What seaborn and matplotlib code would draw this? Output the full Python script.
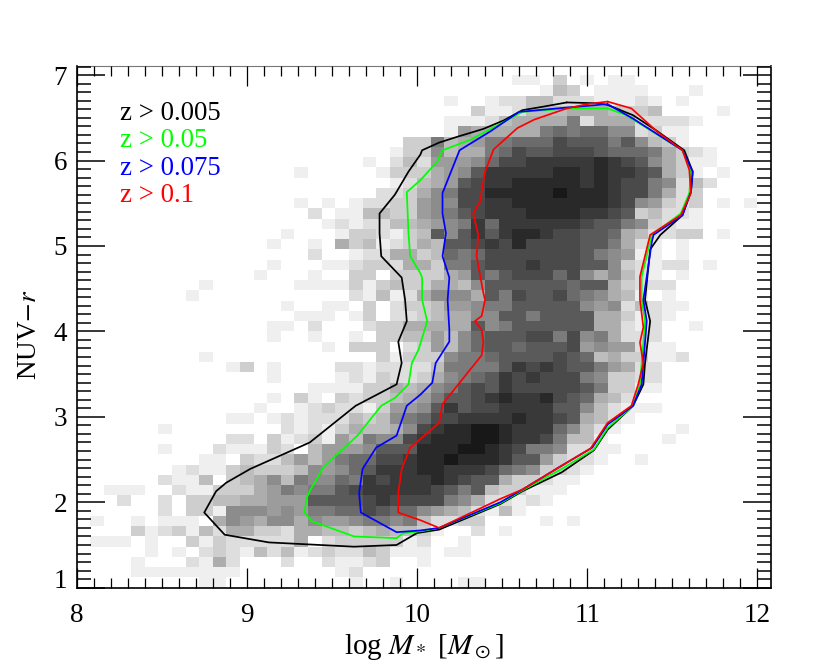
import numpy as np
import pandas as pd
import matplotlib
matplotlib.use('Agg')
import matplotlib.pyplot as plt
from matplotlib.ticker import MultipleLocator
import seaborn as sns

# gray level per bin (hex, 0-f), top row is y = 6.88-7.00, columns run from x = 8
# each row has 10 groups of 5 columns
rows = [
    "..... ..... ..... ..... ..... ..... ..11. 3.1.1 1.... .....",
    "..... ..... ..... ..... ..... ..... ....1 43.11 11... 1....",
    "..... ..... ..... ..... ..... ..1.. 12244 22211 121.1 .....",
    "..... ..... ..... ..... ..... ....3 11244 45554 334.. ..1..",
    "..... ..... ..... ..... ..... ..111 24555 58255 52222 1....",
    "..... ..... ..... ..... ..... ..165 55558 98997 72311 .....",
    "..... ..... ..... ..... ....3 38456 88999 baaa8 a7431 .....",
    "..... ..... ..... ..... ...13 37455 89baa bbba9 99853 21...",
    "..... ..... ..... ..... .1.24 26667 9bbcc cccdc ba753 11...",
    "..... ..... ..... .1... ..133 3567a ccccc ddcdc cba53 1.1..",
    "..... ..... ..... ..... ...12 456ab ccddd ddcdc bb872 42...",
    "..... ..... ..... ..... ..223 578bb ddddd edddc bb852 3....",
    "..... ..... ..... .1.1. 12233 677bb ccddd ddddc b7632 3.1.1",
    "..... ..... ..... ..2.1 14433 678ab cccdd ddccb a3422 1....",
    "..... ..... ..... ...12 12244 5678c 9cccc ccbaa 87321 1....",
    "..... ..... ..... 1...1 33213 4a7ac acddc bbaa9 54223 3.1..",
    "..... ..... ....1 ..1.5 34123 54aab cbdbb bbaa8 521.1 .....",
    "..... ..... ..... ..2.. 12255 34989 bbbbb bba87 611.1 .....",
    "..... ..... ....1 ...11 23325 5388a bbbcb bbaa7 32122 .1...",
    "..... ..... ...1. ..1.. 33.33 3356a 8abbb 9b757 421.1 .....",
    "..... ....1 ..... .1111 31343 35547 aaaaa a9aa5 3222. .....",
    "..... ...1. ..... ..... 21412 57775 a8baa b9875 41.1. .....",
    "..... ..... ..... 1..11 .3.23 34667 88aaa aa767 24211 .....",
    "..... ..... ..... .111. 13.22 34557 7aa8a aaa55 3121. .....",
    "..... ..... ....1 1.2.. .2335 5555a 78aaa aaa55 212.. 1....",
    "..... ..... ....1 ..1.. 1.334 46479 aaabb 8b785 222.. .....",
    "..... ..... ..... ...1. 333.2 36479 aa9aa ab676 6211. .....",
    "..... ....1 ..... ..... ..313 33788 9aaaa ba945 33112 .....",
    "..... ..... .13.1 ....2 21222 24888 8acbc baa86 522.. .....",
    "..... ..... ....1 ....1 21322 35789 acbcb bb873 322.. .....",
    "..... ..... ..... ..111 13354 578ab acbbb bba83 311.. .....",
    "..... ..... ....1 .31.3 23345 68aab cdccd ba954 2.... .....",
    "..... ..... ...1. .1232 21366 7acab bcccc aa742 111.. .....",
    "..... ..... .11.1 21222 43478 9bbcc ccdcc ba542 1.... .....",
    "..... .1... ..... 21213 54457 bcdde edccc 97421 ....1 .....",
    "..... ..... .22.3 12316 4877b cddde edccb 8441. ...1. .....",
    "..... .1... 21113 2.466 67aaa dddee dcb88 72211 ..... .....",
    "..... ....1 1.322 46468 99bbc ddedd dcaa6 3221. .1... .....",
    "..... ..121 13433 34767 9accc ddccc b9873 321.. ..... .....",
    "..... .2114 .3457 48779 8cbcc cdcba a5332 11... ..... .....",
    "..111 ..211 33356 8788a bcccc cba8a 43311 1.... ..... .....",
    "...2. .2.33 44556 66aaa abcbb bb875 22121 ..... ..... .....",
    "..... .2.33 17776 76889 9ba99 76542 141.. ..... ..... .....",
    ".1..1 .111. 57657 75766 78878 42233 ....1 .1... ..... .....",
    "....3 12314 25533 25544 34544 31..2 .1... ..... ..... .....",
    ".111. 1..31 32222 25.23 33331 2..1. ..... ..... ..... .....",
    "..... 1.1.2 32142 41232 24311 1.11. ..... ..... ..... .....",
    "....1 ...21 52... 2..21 123.. 1.... ..... ..... ..... .....",
    "....1 11111 11... ....1 2.... ..... ..... ..... ..... .....",
    "..... ....1 1.... ..... 1..1. ...11 ..... ..... ..... .....",
]

black_x = [10.88, 10.74, 10.62, 10.51, 10.39, 10.24, 10.13, 10.03, 10.02, 9.95, 9.87, 9.78, 9.78, 9.79, 9.91, 9.93, 9.94, 9.89, 9.91, 9.88, 9.64, 9.37, 9.02, 8.88, 8.82, 8.75, 8.87, 9.13, 9.63, 9.88, 10.0, 10.13, 10.49, 10.62, 10.85, 11.04, 11.12, 11.27, 11.33, 11.34, 11.37, 11.34, 11.37, 11.43, 11.56, 11.61, 11.62, 11.57, 11.40, 11.27, 11.12, 11.06, 10.88]
black_y = [6.68, 6.63, 6.59, 6.47, 6.37, 6.28, 6.21, 6.12, 6.07, 5.87, 5.60, 5.38, 5.15, 4.88, 4.63, 4.37, 4.12, 3.88, 3.63, 3.38, 3.13, 2.70, 2.39, 2.23, 2.13, 1.88, 1.62, 1.53, 1.48, 1.50, 1.64, 1.68, 1.98, 2.13, 2.35, 2.61, 2.85, 3.13, 3.38, 3.63, 4.12, 4.37, 4.96, 5.13, 5.36, 5.64, 5.87, 6.12, 6.36, 6.53, 6.65, 6.67, 6.68]

green_x = [11.12, 10.89, 10.62, 10.48, 10.31, 10.15, 10.12, 10.02, 9.94, 9.95, 9.96, 10.02, 10.03, 10.03, 10.06, 10.01, 9.97, 9.95, 9.87, 9.79, 9.65, 9.45, 9.37, 9.35, 9.34, 9.38, 9.63, 9.88, 9.92, 10.02, 10.13, 10.49, 10.62, 10.85, 11.04, 11.12, 11.27, 11.31, 11.32, 11.34, 11.32, 11.32, 11.38, 11.55, 11.60, 11.61, 11.56, 11.23, 11.12]
green_y = [6.61, 6.61, 6.57, 6.42, 6.24, 6.12, 5.99, 5.77, 5.63, 5.15, 4.88, 4.68, 4.63, 4.37, 4.12, 3.79, 3.63, 3.38, 3.22, 3.13, 2.78, 2.41, 2.13, 2.04, 1.88, 1.78, 1.60, 1.58, 1.64, 1.66, 1.70, 1.99, 2.14, 2.39, 2.62, 2.87, 3.13, 3.38, 3.63, 4.12, 4.37, 4.64, 5.13, 5.38, 5.62, 5.87, 6.12, 6.53, 6.61]

blue_x = [11.12, 10.88, 10.60, 10.43, 10.25, 10.15, 10.15, 10.17, 10.15, 10.19, 10.18, 10.19, 10.19, 10.11, 10.09, 10.02, 9.94, 9.88, 9.76, 9.68, 9.66, 9.67, 9.88, 10.02, 10.13, 10.49, 10.62, 10.86, 11.03, 11.12, 11.27, 11.32, 11.33, 11.35, 11.33, 11.35, 11.38, 11.39, 11.56, 11.61, 11.62, 11.56, 11.27, 11.12]
blue_y = [6.66, 6.62, 6.57, 6.34, 6.12, 5.62, 5.38, 5.15, 4.88, 4.63, 4.37, 4.02, 3.88, 3.63, 3.40, 3.26, 3.13, 2.78, 2.64, 2.39, 2.11, 1.88, 1.65, 1.67, 1.70, 2.00, 2.15, 2.44, 2.64, 2.91, 3.13, 3.38, 3.63, 4.12, 4.37, 4.64, 5.05, 5.13, 5.36, 5.64, 5.87, 6.12, 6.49, 6.66]

red_x = [11.12, 11.00, 10.88, 10.69, 10.59, 10.45, 10.40, 10.37, 10.33, 10.36, 10.35, 10.39, 10.40, 10.38, 10.34, 10.38, 10.39, 10.38, 10.15, 10.13, 10.02, 9.96, 9.91, 9.89, 9.89, 10.02, 10.13, 10.49, 10.62, 10.86, 11.02, 11.12, 11.26, 11.30, 11.33, 11.31, 11.33, 11.31, 11.31, 11.37, 11.55, 11.61, 11.60, 11.56, 11.41, 11.26, 11.12]
red_y = [6.69, 6.66, 6.61, 6.48, 6.38, 6.13, 5.87, 5.52, 5.38, 5.13, 4.88, 4.45, 4.37, 4.18, 4.12, 4.02, 3.87, 3.72, 3.15, 2.93, 2.74, 2.64, 2.39, 2.11, 1.88, 1.79, 1.70, 2.04, 2.15, 2.44, 2.63, 2.93, 3.13, 3.38, 3.63, 3.87, 4.05, 4.37, 4.64, 5.13, 5.36, 5.62, 5.89, 6.12, 6.34, 6.61, 6.69]

labels = ['z > 0.005', 'z > 0.05', 'z > 0.075', 'z > 0.1']
colors = ['black', '#00ff00', '#0000ff', '#ff0000']

x_edges = np.linspace(8, 12, 51)
y_edges = np.linspace(1, 7, 51)
x_mid = (x_edges[:-1] + x_edges[1:]) / 2
y_mid = (y_edges[:-1] + y_edges[1:]) / 2

# long form table for histplot
cells = []
for j, row in enumerate(rows):
    for i, c in enumerate(row.replace(' ', '')):
        if c != '.':
            cells.append((x_mid[i], y_mid[49 - j], int(c, 16)))
grid = pd.DataFrame(cells, columns=['mass', 'color', 'level'])

sns.set_style('ticks')
plt.rcParams['font.family'] = ['Liberation Serif', 'DejaVu Serif']
plt.rcParams['mathtext.fontset'] = 'stix'
for key in ['text.color', 'axes.labelcolor', 'xtick.color', 'ytick.color', 'axes.edgecolor']:
    plt.rcParams[key] = 'black'

fig = plt.figure(figsize=(8.3, 6.67), dpi=100)
ax = fig.add_axes([76.6 / 830, 1 - 587.7 / 667, (771 - 76.6) / 830, (587.7 - 65.7) / 667])

# vmax 15.5 keeps the darkest bins around 0x1b
sns.histplot(data=grid, x='mass', y='color', weights='level', bins=[x_edges, y_edges],
             cmap='gray_r', vmin=0, vmax=15.5, ax=ax)

for cx, cy, col in [(black_x, black_y, colors[0]), (green_x, green_y, colors[1]),
                    (blue_x, blue_y, colors[2]), (red_x, red_y, colors[3])]:
    sns.lineplot(x=cx, y=cy, sort=False, estimator=None, color=col, lw=1.25, ax=ax)

ax.set_xlim(8, 12.08)
ax.set_ylim(1, 7.11)
ax.set_axisbelow(False)
ax.xaxis.set_major_locator(MultipleLocator(1))
ax.xaxis.set_minor_locator(MultipleLocator(0.1))
ax.yaxis.set_major_locator(MultipleLocator(1))
ax.yaxis.set_minor_locator(MultipleLocator(0.1))
ax.tick_params(axis='x', which='major', direction='in', top=True, length=14.4, width=0.9, labelsize=19.5, pad=11)
ax.tick_params(axis='x', which='minor', direction='in', top=True, length=7.2, width=0.9)
ax.tick_params(axis='y', which='major', direction='in', right=True, length=20, width=1.1, labelsize=19.5, pad=7)
ax.tick_params(axis='y', which='minor', direction='in', right=True, length=10, width=1.1)
for s in ['left', 'bottom', 'right']:
    ax.spines[s].set_linewidth(1.2)
ax.spines['top'].set_linewidth(0.8)
ax.spines['top'].set_color('#777777')

fig.canvas.draw()
# the lowest y label sits on the axis corner
for t in ax.yaxis.get_major_ticks():
    if t.get_loc() == 1:
        t.label1.set_va('baseline')

ax.set_xlabel(r'log $M_*$ [$M_\odot$]', fontsize=21, labelpad=3)
ax.set_ylabel(r'NUV$-r$', fontsize=19.5)
ax.yaxis.set_label_coords(-0.05, 0.485)

for i, lab in enumerate(labels):
    ax.text(8.255, 6.55 - i * 0.32, lab, color=colors[i], fontsize=19.3, va='center', ha='left')

fig.savefig('out.png', dpi=100)
